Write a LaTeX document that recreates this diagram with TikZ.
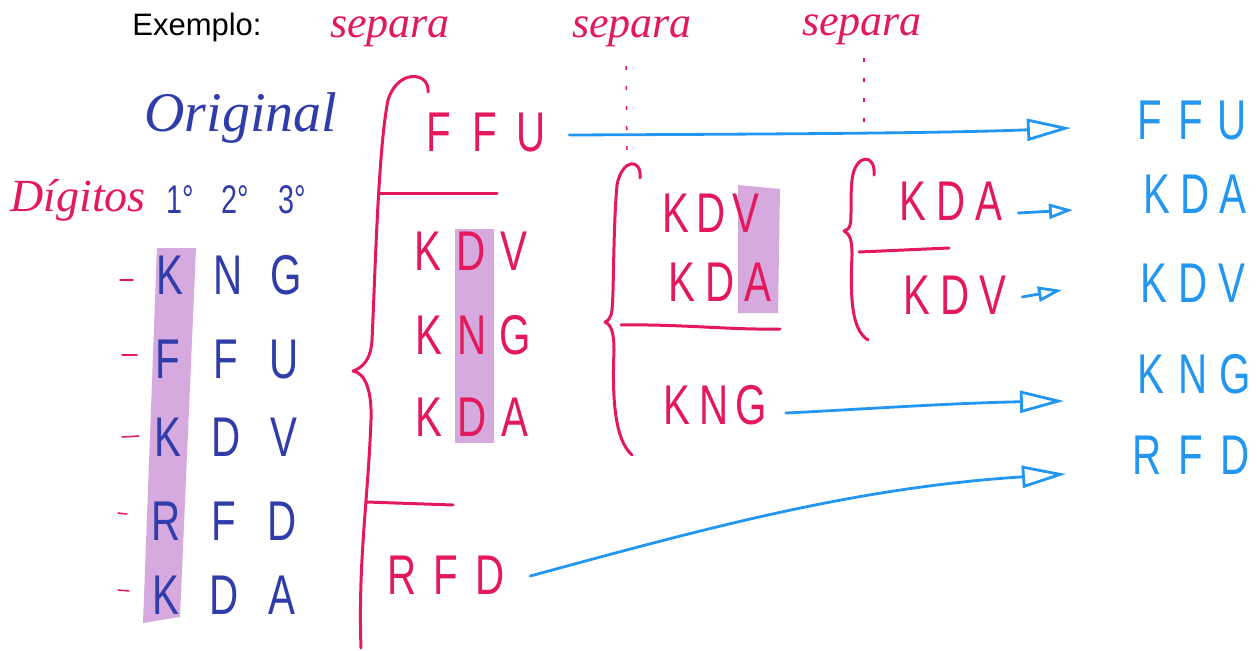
\documentclass[tikz,border=0pt]{standalone}
\usepackage{fontspec}
\setmainfont{Liberation Sans}
\newfontfamily\hand[FakeStretch=0.72]{Liberation Sans}
\newfontfamily\curs{Liberation Serif}
\usetikzlibrary{arrows.meta}
\definecolor{pk}{RGB}{228,24,92}
\definecolor{bl}{RGB}{34,150,240}
\definecolor{nv}{RGB}{48,60,170}
\definecolor{hl}{RGB}{214,170,222}
\newcommand\trio[4][42pt]{\makebox[#1]{#2}\makebox[#1]{#3}\makebox[#1]{#4}}
\tikzset{
 pinktxt/.style={text=pk, font=\hand\fontsize{56}{60}\selectfont, inner sep=0pt},
 bluetxt/.style={text=bl, font=\hand\fontsize{56}{60}\selectfont, inner sep=0pt},
 navytxt/.style={text=nv, font=\hand\fontsize{56}{60}\selectfont, inner sep=0pt},
 cursive/.style={font=\curs\itshape\fontsize{#1}{#1}\selectfont, inner sep=0pt},
 pinkline/.style={draw=pk, line width=3pt, line cap=round, line join=round},
 thinpink/.style={draw=pk, line width=1.5pt, line cap=round},
 blueline/.style={draw=bl, line width=2.8pt, line cap=round},
 bigtip/.style={-{Triangle[open,length=44pt,width=22pt,line width=2.8pt]}},
 smalltip/.style={-{Triangle[open,length=24pt,width=15pt,line width=2.8pt]}},
 dotline/.style={draw=pk, line width=1.5pt, dash pattern=on 4pt off 16pt},
}
\begin{document}
\begin{tikzpicture}[x=1pt,y=-1pt]
\useasboundingbox (0,0) rectangle (1257,650);
\fill[white] (0,0) rectangle (1257,650);

% highlights
\fill[hl] (157,248) -- (196,248) -- (180,617) -- (143,623) -- cycle;
\fill[hl] (455,229) rectangle (494,443);
\fill[hl] (738,185) -- (780,189) -- (778,313) -- (738,313) -- cycle;

% titles
\node[font=\fontsize{31}{34}\selectfont, inner sep=0pt] (ex) at (197,27) {Exemplo:};
\node[cursive=44, text=pk] (s1) at (390,32) {separa};
\node[cursive=44, text=pk] (s2) at (632,32) {separa};
\node[cursive=44, text=pk] (s3) at (862,30) {separa};
\coordinate (d2a) at (626,66); \coordinate (d2b) at (627,150);
\coordinate (d3a) at (864,58); \coordinate (d3b) at (864,137);
\draw[dotline] (d2a) -- (d2b);
\draw[dotline] (d3a) -- (d3b);

\node[cursive=56, text=nv] (orig) at (241,118) {Original};
\node[cursive=46, text=pk] (dig) at (78,200) {Dígitos};
\node[navytxt, font=\hand\fontsize{40}{44}\selectfont] (d1) at (180,200) {1°};
\node[navytxt, font=\hand\fontsize{40}{44}\selectfont] (d2) at (235,200) {2°};
\node[navytxt, font=\hand\fontsize{40}{44}\selectfont] (d3) at (292,200) {3°};

% original rows
\node[navytxt] (o1) at (228,275) {\trio[58pt]{K}{N}{G}};
\node[navytxt] (o2) at (226,360) {\trio[58pt]{F}{F}{U}};
\node[navytxt] (o3) at (226,437) {\trio[58pt]{K}{D}{V}};
\node[navytxt] (o4) at (224,521) {\trio[58pt]{R}{F}{D}};
\node[navytxt] (o5) at (224,595) {\trio[58pt]{K}{D}{A}};
\draw[thinpink] (120,280) -- (133,280);
\draw[thinpink] (122,355) -- (137,355);
\draw[thinpink] (122,437) -- (139,436);
\draw[thinpink] (118,513) -- (127,514);
\draw[thinpink] (118,590) -- (129,591);

% first brace
\draw[pinkline] (428,92) .. controls (430,72) and (398,68) .. (388,100)
  .. controls (378,150) and (375,280) .. (372,340)
  .. controls (371,360) and (362,368) .. (353,371)
  .. controls (365,373) and (372,390) .. (371,420)
  .. controls (368,500) and (358,560) .. (361,648);
\draw[pinkline] (380,193) -- (497,193);
\draw[pinkline] (367,502) -- (453,505);

\node[pinktxt] (ffu) at (485,133) {\trio[46pt]{F}{F}{U}};
\node[pinktxt] (kdv1) at (471,251) {\trio[43pt]{K}{D}{V}};
\node[pinktxt] (kng1) at (472,335) {\trio[43pt]{K}{N}{G}};
\node[pinktxt] (kda1) at (472,417) {\trio[43pt]{K}{D}{A}};
\node[pinktxt] (rfd1) at (446,575) {\trio[44pt]{R}{F}{D}};

% second brace
\draw[pinkline] (640,178) .. controls (642,158) and (622,158) .. (617,185)
  .. controls (613,230) and (614,290) .. (612,310)
  .. controls (611,318) and (608,321) .. (605,322)
  .. controls (612,325) and (614,335) .. (614,350)
  .. controls (612,400) and (615,440) .. (632,455);
\draw[pinkline] (621,325) .. controls (680,324) and (730,330) .. (780,329);
\node[pinktxt] (kdv2) at (711,213) {\trio[35pt]{K}{D}{V}};
\node[pinktxt] (kda2) at (720,282) {\trio[38pt]{K}{D}{A}};
\node[pinktxt] (kng2) at (714,405) {\trio[37pt]{K}{N}{G}};

% third brace
\draw[pinkline] (874,175) .. controls (876,153) and (855,153) .. (852,180)
  .. controls (850,200) and (852,220) .. (850,225)
  .. controls (849,229) and (847,230) .. (844,231)
  .. controls (850,234) and (852,240) .. (852,255)
  .. controls (850,300) and (852,330) .. (868,340);
\draw[pinkline] (859,252) -- (949,248);
\node[pinktxt] (kda3) at (951,201) {\trio[38pt]{K}{D}{A}};
\node[pinktxt] (kdv3) at (955,295) {\trio[38pt]{K}{D}{V}};

% results
\node[bluetxt] (rffu) at (1191,121) {\trio[41pt]{F}{F}{U}};
\node[bluetxt] (rkda) at (1195,194) {\trio[38pt]{K}{D}{A}};
\node[bluetxt] (rkdv) at (1193,283) {\trio[39pt]{K}{D}{V}};
\node[bluetxt] (rkng) at (1193,374) {\trio[42pt]{K}{N}{G}};
\node[bluetxt] (rrfd) at (1191,455) {\trio[44pt]{R}{F}{D}};

% arrows
\coordinate (t1) at (1071,128);
\coordinate (t2) at (1073,210);
\coordinate (t3) at (1062,290);
\coordinate (t4) at (1064,401);
\coordinate (t5) at (1066,474);
\draw[blueline, bigtip] ([xshift=15pt,yshift=-2pt]ffu.east) .. controls (800,134) and (950,133) .. (t1);
\draw[blueline, smalltip] ([xshift=10pt,yshift=-12pt]kda3.east) -- (t2);
\draw[blueline, smalltip] ([xshift=10pt,yshift=-2pt]kdv3.east) -- (t3);
\draw[blueline, bigtip] ([xshift=16pt,yshift=-8pt]kng2.east) .. controls (850,410) and (950,403) .. (t4);
\draw[blueline, bigtip] ([xshift=18pt,yshift=-1pt]rfd1.east) .. controls (700,530) and (850,488) .. (t5);
\end{tikzpicture}
\end{document}
